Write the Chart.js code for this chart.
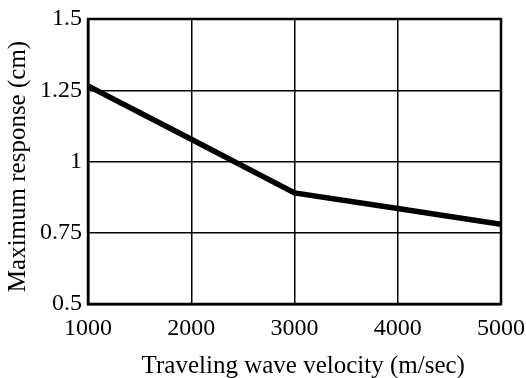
<!DOCTYPE html>
<html>
<head>
<meta charset="utf-8">
<script src="https://cdn.jsdelivr.net/npm/chart.js@4.4.1/dist/chart.umd.min.js"></script>
<style>
  html, body { margin: 0; padding: 0; background: #fff; }
  #wrap { width: 526px; height: 378px; }
</style>
</head>
<body>
<div id="wrap"><canvas id="myChart" width="526" height="378"></canvas></div>
<script>
// données
const velocities = [1000, 2000, 3000, 4000, 5000];
const responses = [1.265, 1.078, 0.89, 0.835, 0.78];
const xTickLabels = ['1000', '2000', '3000', '4000', '5000'];
const yTickValues = [0.5, 0.75, 1, 1.25, 1.5];
const yTickLabels = ['0.5', '0.75', '1', '1.25', '1.5'];

const serif = "'Liberation Serif', 'Times New Roman', serif";

const ctx = document.getElementById('myChart').getContext('2d');
const points = velocities.map((v, i) => ({ x: v, y: responses[i] }));

new Chart(ctx, {
  type: 'scatter',
  data: {
    datasets: [{
      data: points,
      showLine: true,
      borderColor: '#000',
      borderWidth: 5.5,
      pointRadius: 0,
      tension: 0
    }]
  },
  options: {
    responsive: false,
    animation: false,
    layout: { padding: { top: 19, right: 25, left: 0, bottom: 0 } },
    plugins: { legend: { display: false }, tooltip: { enabled: false } },
    scales: {
      x: {
        type: 'linear',
        min: 1000, max: 5000,
        afterFit: function(scale) {
          scale.height = 74;
          scale.paddingLeft = 0;
          scale.paddingRight = 0;
        },
        afterBuildTicks: function(scale) {
          scale.ticks = velocities.map(v => ({ value: v }));
        },
        ticks: {
          color: '#000',
          font: { family: serif, size: 24 },
          padding: 10,
          maxRotation: 0,
          callback: function(value) {
            const i = velocities.indexOf(value);
            return i >= 0 ? xTickLabels[i] : '';
          }
        },
        grid: { color: '#000', lineWidth: 1.5, drawTicks: false },
        border: { color: '#000', width: 2.5 },
        title: {
          display: true,
          // espaces fines devant pour décaler le titre vers la droite
          text: '\u2002\u2009Traveling wave velocity (m/sec)',
          color: '#000',
          font: { family: serif, size: 25 },
          padding: { top: 0, bottom: -3 }
        }
      },
      y: {
        min: 0.5, max: 1.5,
        afterFit: function(scale) {
          scale.width = 88;
          scale.paddingTop = 0;
          scale.paddingBottom = 0;
        },
        afterBuildTicks: function(scale) {
          scale.ticks = yTickValues.map(v => ({ value: v }));
        },
        ticks: {
          color: '#000',
          font: { family: serif, size: 24 },
          padding: 6,
          callback: function(value) {
            const i = yTickValues.indexOf(value);
            return i >= 0 ? yTickLabels[i] : '';
          }
        },
        grid: { color: '#000', lineWidth: 1.5, drawTicks: false },
        border: { color: '#000', width: 2.5 },
        title: {
          display: true,
          // espaces à la fin pour descendre un peu le titre
          text: 'Maximum response (cm)\u2009\u2009',
          color: '#000',
          font: { family: serif, size: 25 },
          padding: { top: 3, bottom: 0 }
        }
      }
    }
  },
  plugins: [{
    // cadre noir autour de la zone du graphique
    id: 'cadre',
    afterDatasetsDraw(chart) {
      const a = chart.chartArea, c = chart.ctx;
      c.save();
      c.strokeStyle = '#000';
      c.lineWidth = 2.5;
      c.strokeRect(a.left, a.top, a.right - a.left, a.bottom - a.top);
      c.restore();
    }
  }]
});
</script>
</body>
</html>
